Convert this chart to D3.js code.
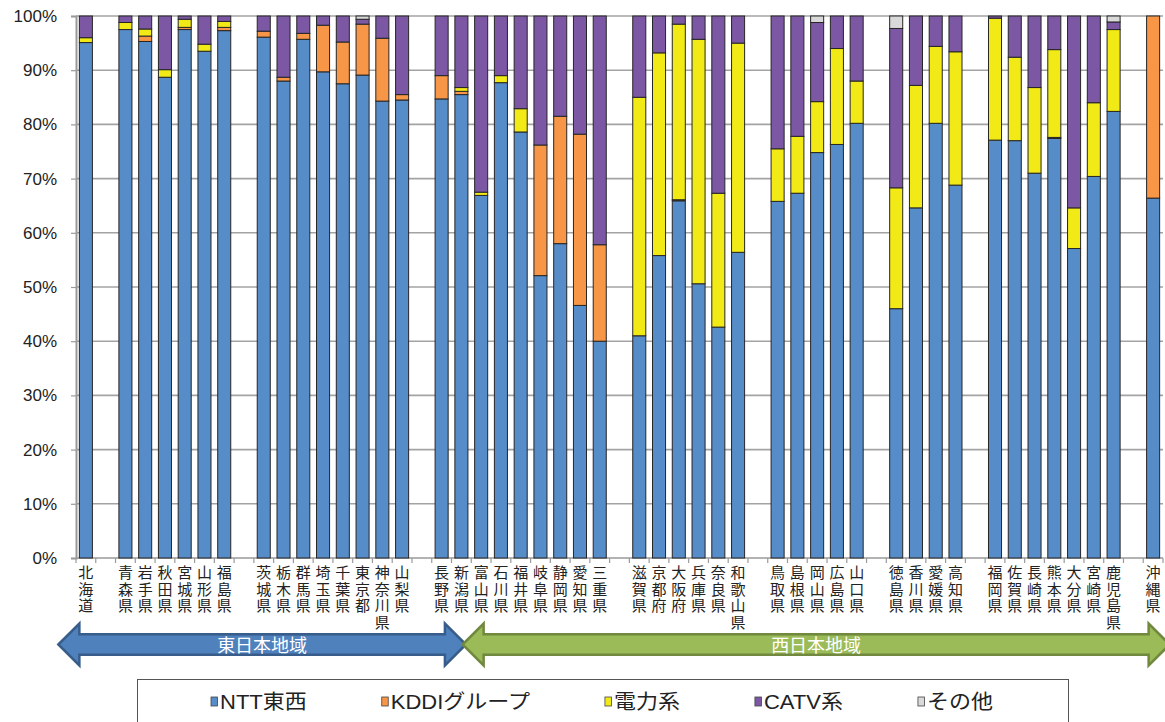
<!DOCTYPE html>
<html>
<head>
<meta charset="utf-8">
<script src="https://cdn.jsdelivr.net/npm/d3@7"></script>
<style>
  body { margin: 0; background: #fff; }
  svg { display: block; font-family: "Liberation Sans", Arial, "Noto Sans CJK JP", sans-serif; }
</style>
</head>
<body>
<div id="vis"></div>
<script>
// prefectures, grouped by region (a blank slot is left between groups)
var groups = [
  ['北海道'],
  ['青森県', '岩手県', '秋田県', '宮城県', '山形県', '福島県'],
  ['茨城県', '栃木県', '群馬県', '埼玉県', '千葉県', '東京都', '神奈川県', '山梨県'],
  ['長野県', '新潟県', '富山県', '石川県', '福井県', '岐阜県', '静岡県', '愛知県', '三重県'],
  ['滋賀県', '京都府', '大阪府', '兵庫県', '奈良県', '和歌山県'],
  ['鳥取県', '島根県', '岡山県', '広島県', '山口県'],
  ['徳島県', '香川県', '愛媛県', '高知県'],
  ['福岡県', '佐賀県', '長崎県', '熊本県', '大分県', '宮崎県', '鹿児島県'],
  ['沖縄県']
];

// share (%) per prefecture, same order as groups
var ntt = [95.1,
  97.5, 95.3, 88.7, 97.5, 93.5, 97.3,
  96.1, 88.0, 95.7, 89.7, 87.5, 89.1, 84.3, 84.5,
  84.7, 85.5, 66.9, 87.7, 78.6, 52.1, 58.0, 46.6, 40.0,
  41.0, 55.8, 65.9, 50.6, 42.6, 56.4,
  65.8, 67.3, 74.8, 76.3, 80.2,
  46.0, 64.6, 80.2, 68.8,
  77.1, 77.0, 71.0, 77.4, 57.1, 70.4, 82.4,
  66.4];
var kddi = [0,
  0, 1.0, 0, 0.4, 0, 0.6,
  1.1, 0.7, 1.1, 8.6, 7.7, 9.4, 11.6, 1.0,
  4.3, 0.6, 0, 0, 0, 24.1, 23.5, 31.6, 17.8,
  0, 0, 0.2, 0, 0, 0,
  0, 0, 0, 0, 0,
  0, 0, 0, 0,
  0, 0, 0, 0.2, 0, 0, 0,
  33.6];
var power = [0.9,
  1.3, 1.3, 1.4, 1.5, 1.3, 1.1,
  0, 0, 0, 0, 0, 0, 0, 0,
  0, 0.7, 0.6, 1.3, 4.3, 0, 0, 0, 0,
  44.0, 37.4, 32.4, 45.1, 24.7, 38.6,
  9.7, 10.5, 9.4, 17.7, 7.8,
  22.3, 22.6, 14.2, 24.6,
  22.5, 15.4, 15.8, 16.2, 7.5, 13.6, 15.1,
  0];
var catv = [4.0,
  1.2, 2.4, 9.9, 0.6, 5.2, 1.0,
  2.8, 11.3, 3.2, 1.7, 4.8, 0.9, 4.1, 14.5,
  11.0, 13.2, 32.5, 11.0, 17.1, 23.8, 18.5, 21.8, 42.2,
  15.0, 6.8, 1.5, 4.3, 32.7, 5.0,
  24.5, 22.2, 14.6, 6.0, 12.0,
  29.4, 12.8, 5.6, 6.6,
  0.4, 7.6, 13.2, 6.2, 35.4, 16.0, 1.4,
  0];
var other = [0,
  0, 0, 0, 0, 0, 0,
  0, 0, 0, 0, 0, 0.6, 0, 0,
  0, 0, 0, 0, 0, 0, 0, 0, 0,
  0, 0, 0, 0, 0, 0,
  0, 0, 1.2, 0, 0,
  2.3, 0, 0, 0,
  0, 0, 0, 0, 0, 0, 1.1,
  0];

var seriesNames = ['NTT東西', 'KDDIグループ', '電力系', 'CATV系', 'その他'];
var seriesColors = ['#568cc8', '#f79646', '#f2ea16', '#7b57a4', '#d9d9d9'];
var yTicks = [0, 10, 20, 30, 40, 50, 60, 70, 80, 90, 100];
var regions = [
  {name: '東日本地域', from: '北海道', to: '新潟県'},
  {name: '西日本地域', from: '富山県', to: '沖縄県'}
];

var width = 1165;
var height = 722;
var margin = {top: 16, left: 76, bottom: 164, right: 2};

// build the slot list: prefectures with an empty slot between groups
var slots = [];
var rows = [];
var k = 0;
groups.forEach(function(gr, gi) {
  if (gi > 0) slots.push('gap' + gi);
  gr.forEach(function(p) {
    slots.push(p);
    rows.push({pref: p, ntt: ntt[k], kddi: kddi[k], power: power[k], catv: catv[k], other: other[k]});
    k++;
  });
});

var keys = ['ntt', 'kddi', 'power', 'catv', 'other'];
var stacked = d3.stack().keys(keys)(rows);

var x = d3.scaleBand()
  .domain(slots)
  .range([margin.left, width - margin.right])
  .paddingInner(0.34)
  .paddingOuter(0.17);

var y = d3.scaleLinear()
  .domain([0, 100])
  .range([height - margin.bottom, margin.top]);

var svg = d3.select('#vis').append('svg')
  .attr('width', width)
  .attr('height', height);

// gridlines
svg.append('g')
  .selectAll('line')
  .data(yTicks.filter(function(d) { return d > 0; }))
  .enter().append('line')
  .attr('x1', margin.left)
  .attr('x2', width - margin.right)
  .attr('y1', function(d) { return y(d); })
  .attr('y2', function(d) { return y(d); })
  .attr('stroke', '#a3a3a3')
  .attr('stroke-width', 1.6);

// left axis
var yAxis = d3.axisLeft(y)
  .tickValues(yTicks)
  .tickSize(5)
  .tickFormat(function(d) { return d + '%'; });

var ya = svg.append('g')
  .attr('transform', 'translate(' + margin.left + ',0)')
  .call(yAxis);
ya.select('.domain').attr('stroke', '#9a9a9a').attr('stroke-width', 2);
ya.selectAll('.tick line').attr('stroke', '#9a9a9a').attr('stroke-width', 1.2);
ya.selectAll('.tick text')
  .attr('x', -19)
  .attr('fill', '#222')
  .style('font-size', '17px')
  .style('font-family', '"Liberation Sans", Arial, sans-serif');

// bottom axis line and ticks at the slot boundaries
var base = y(0);
svg.append('line')
  .attr('x1', margin.left)
  .attr('x2', width - margin.right)
  .attr('y1', base)
  .attr('y2', base)
  .attr('stroke', '#9a9a9a')
  .attr('stroke-width', 1.6);

var step = x.step();
svg.append('g')
  .selectAll('line')
  .data(d3.range(slots.length + 1))
  .enter().append('line')
  .attr('x1', function(i) { return margin.left + i * step; })
  .attr('x2', function(i) { return margin.left + i * step; })
  .attr('y1', base)
  .attr('y2', base + 5)
  .attr('stroke', '#9a9a9a')
  .attr('stroke-width', 1.2);

// stacked bars
svg.append('g')
  .selectAll('g')
  .data(stacked)
  .enter().append('g')
  .attr('fill', function(d, i) { return seriesColors[i]; })
  .selectAll('rect')
  .data(function(d) { return d.filter(function(s) { return s[1] - s[0] > 0; }); })
  .enter().append('rect')
  .attr('x', function(d) { return x(d.data.pref); })
  .attr('width', x.bandwidth())
  .attr('y', function(d) { return y(d[1]); })
  .attr('height', function(d) { return y(d[0]) - y(d[1]); })
  .attr('stroke', '#262626')
  .attr('stroke-width', 1);

// vertical prefecture labels, one character per line
var labels = svg.append('g')
  .selectAll('text')
  .data(rows)
  .enter().append('text')
  .attr('x', function(d) { return x(d.pref) + x.bandwidth() / 2; })
  .attr('text-anchor', 'middle')
  .attr('fill', '#222')
  .style('font-family', '"Noto Sans CJK JP", sans-serif')
  .style('font-size', '15px');

labels.selectAll('tspan')
  .data(function(d) { return d.pref.split(''); })
  .enter().append('tspan')
  .attr('x', function() { return d3.select(this.parentNode).attr('x'); })
  .attr('y', function(c, i) { return 578 + i * 16.6; })
  .text(function(c) { return c; });

// region arrows
var cy = 644.5;
var headLen = 21, headH = 21, bodyH = 10.3;
function arrowPath(x1, x2) {
  return 'M' + x1 + ',' + cy +
    'L' + (x1 + headLen) + ',' + (cy - headH) +
    'L' + (x1 + headLen) + ',' + (cy - bodyH) +
    'L' + (x2 - headLen) + ',' + (cy - bodyH) +
    'L' + (x2 - headLen) + ',' + (cy - headH) +
    'L' + x2 + ',' + cy +
    'L' + (x2 - headLen) + ',' + (cy + headH) +
    'L' + (x2 - headLen) + ',' + (cy + bodyH) +
    'L' + (x1 + headLen) + ',' + (cy + bodyH) +
    'L' + (x1 + headLen) + ',' + (cy + headH) + 'Z';
}
var arrowFill = ['#4f81bd', '#9bbb59'];
var arrowStroke = ['#385d8a', '#71893f'];
var arrowEnds = [
  [x(regions[0].from) - 21, x(regions[0].to) + x.bandwidth() - 2],
  [x(regions[1].from) - 12, x(regions[1].to) + x.bandwidth() + 10]
];
regions.forEach(function(r, i) {
  var ends = arrowEnds[i];
  svg.append('path')
    .attr('d', arrowPath(ends[0], ends[1]))
    .attr('fill', arrowFill[i])
    .attr('stroke', arrowStroke[i])
    .attr('stroke-width', 2.5)
    .attr('stroke-linejoin', 'miter');
  svg.append('text')
    .attr('x', (ends[0] + ends[1]) / 2)
    .attr('y', cy + 7)
    .attr('text-anchor', 'middle')
    .attr('fill', '#fff')
    .style('font-family', '"Noto Sans CJK JP", sans-serif')
    .style('font-size', '18px')
    .text(r.name);
});

// legend
svg.append('rect')
  .attr('x', 137.5)
  .attr('y', 679.5)
  .attr('width', 931)
  .attr('height', 60)
  .attr('fill', 'none')
  .attr('stroke', '#555')
  .attr('stroke-width', 1);

var lx = 211;
var stretch = 1.1;
seriesNames.forEach(function(name, i) {
  svg.append('rect')
    .attr('x', lx)
    .attr('y', 697)
    .attr('width', 6.5)
    .attr('height', 9)
    .attr('fill', seriesColors[i])
    .attr('stroke', '#444')
    .attr('stroke-width', 0.8);
  var t = svg.append('text')
    .attr('transform', 'translate(' + (lx + 9) + ',709) scale(' + stretch + ',1)')
    .attr('fill', '#222')
    .style('font-family', '"Liberation Sans", Arial, "Noto Sans CJK JP", sans-serif')
    .style('font-size', '20px')
    .text(name);
  lx += 9 + t.node().getComputedTextLength() * stretch + 75;
});
</script>
</body>
</html>
